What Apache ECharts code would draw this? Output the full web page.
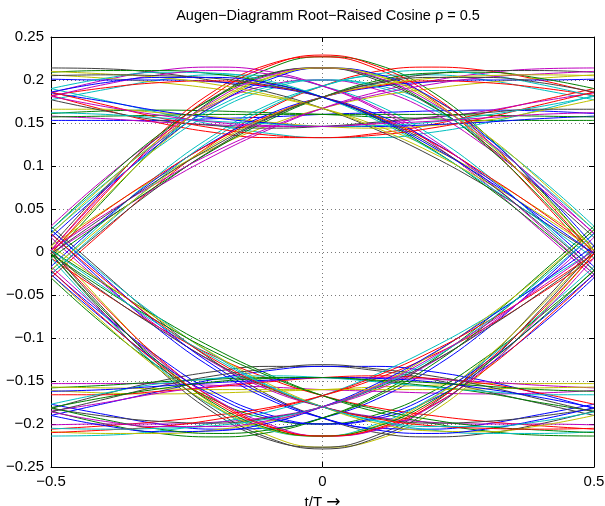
<!DOCTYPE html>
<html>
<head>
<meta charset="utf-8">
<script src="https://cdn.jsdelivr.net/npm/echarts@6/dist/echarts.min.js"></script>
<style>
html,body{margin:0;padding:0;background:#fff;}
#chart{width:605px;height:506px;}
</style>
</head>
<body>
<div id="chart"></div>
<script>
// sample instants t/T
const tVals = [-0.5,-0.4,-0.3,-0.2,-0.1,0,0.1,0.2,0.3,0.4,0.5];

// upper eye: traces staying high
const highFlat = [
  [0.153,0.153,0.153,0.155,0.157,0.160,0.162,0.164,0.165,0.164,0.161],
  [0.161,0.164,0.165,0.164,0.162,0.160,0.157,0.155,0.153,0.153,0.153],
  [0.182,0.165,0.150,0.139,0.133,0.133,0.138,0.148,0.162,0.176,0.190],
  [0.190,0.176,0.162,0.148,0.138,0.133,0.133,0.139,0.150,0.165,0.182],
  [0.158,0.155,0.151,0.148,0.146,0.146,0.150,0.156,0.164,0.175,0.185],
  [0.166,0.166,0.162,0.157,0.151,0.146,0.144,0.147,0.153,0.164,0.177],
  [0.177,0.164,0.153,0.147,0.144,0.146,0.151,0.157,0.162,0.166,0.166],
  [0.185,0.175,0.164,0.156,0.150,0.146,0.146,0.148,0.151,0.155,0.158],
  [0.157,0.158,0.159,0.160,0.160,0.160,0.160,0.160,0.159,0.158,0.157],
  [0.186,0.171,0.156,0.144,0.136,0.133,0.136,0.144,0.156,0.171,0.186],
  [0.162,0.160,0.156,0.152,0.149,0.146,0.147,0.151,0.159,0.169,0.181],
  [0.181,0.169,0.159,0.151,0.147,0.146,0.149,0.152,0.156,0.160,0.162]
];
// upper eye: arcs from crossing to crossing
const highArc = [
  [-0.007,0.062,0.126,0.178,0.213,0.227,0.218,0.187,0.137,0.073,0.002],
  [0.002,0.073,0.137,0.187,0.218,0.227,0.213,0.178,0.126,0.062,-0.007],
  [0.022,0.075,0.123,0.163,0.189,0.200,0.194,0.172,0.134,0.086,0.030],
  [0.030,0.086,0.134,0.172,0.194,0.200,0.189,0.163,0.123,0.075,0.022],
  [-0.002,0.064,0.124,0.171,0.202,0.214,0.206,0.179,0.137,0.084,0.026],
  [0.007,0.075,0.135,0.180,0.207,0.214,0.200,0.170,0.126,0.073,0.017],
  [0.017,0.073,0.126,0.170,0.200,0.214,0.207,0.180,0.135,0.075,0.007],
  [0.026,0.084,0.137,0.179,0.206,0.214,0.202,0.171,0.124,0.064,-0.002],
  [-0.002,0.068,0.132,0.183,0.216,0.229,0.216,0.183,0.132,0.068,-0.002],
  [0.026,0.080,0.129,0.167,0.192,0.200,0.192,0.167,0.129,0.080,0.026],
  [0.002,0.070,0.129,0.176,0.205,0.214,0.203,0.174,0.131,0.079,0.021],
  [0.021,0.079,0.131,0.174,0.203,0.214,0.205,0.176,0.129,0.070,0.002]
];
// upper eye: rising from crossing, staying high
const highRise = [
  [-0.030,0.026,0.080,0.127,0.166,0.193,0.210,0.215,0.211,0.200,0.185],
  [-0.022,0.037,0.091,0.136,0.171,0.193,0.205,0.206,0.200,0.189,0.177],
  [-0.002,0.038,0.077,0.112,0.142,0.167,0.186,0.199,0.208,0.213,0.214],
  [0.007,0.049,0.088,0.121,0.147,0.167,0.181,0.190,0.197,0.202,0.206],
  [-0.026,0.028,0.077,0.120,0.155,0.180,0.197,0.207,0.211,0.211,0.209],
  [-0.017,0.039,0.088,0.129,0.160,0.180,0.192,0.198,0.200,0.200,0.201],
  [-0.007,0.037,0.079,0.119,0.153,0.180,0.199,0.208,0.209,0.202,0.190],
  [0.002,0.048,0.090,0.128,0.158,0.180,0.193,0.199,0.197,0.191,0.182],
  [-0.026,0.031,0.085,0.132,0.168,0.193,0.207,0.211,0.206,0.195,0.181],
  [0.002,0.044,0.082,0.116,0.144,0.167,0.183,0.195,0.203,0.207,0.210],
  [-0.021,0.033,0.083,0.125,0.157,0.180,0.194,0.202,0.205,0.206,0.205],
  [-0.002,0.042,0.085,0.123,0.156,0.180,0.196,0.203,0.203,0.197,0.186]
];
// upper eye: high, falling to crossing
const highFall = [
  [0.177,0.189,0.200,0.206,0.205,0.193,0.171,0.136,0.091,0.037,-0.022],
  [0.185,0.200,0.211,0.215,0.210,0.193,0.166,0.127,0.080,0.026,-0.030],
  [0.206,0.202,0.197,0.190,0.181,0.167,0.147,0.121,0.088,0.049,0.007],
  [0.214,0.213,0.208,0.199,0.186,0.167,0.142,0.112,0.077,0.038,-0.002],
  [0.201,0.200,0.200,0.198,0.192,0.180,0.160,0.129,0.088,0.039,-0.017],
  [0.209,0.211,0.211,0.207,0.197,0.180,0.155,0.120,0.077,0.028,-0.026],
  [0.182,0.191,0.197,0.199,0.193,0.180,0.158,0.128,0.090,0.048,0.002],
  [0.190,0.202,0.209,0.208,0.199,0.180,0.153,0.119,0.079,0.037,-0.007],
  [0.181,0.195,0.206,0.211,0.207,0.193,0.168,0.132,0.085,0.031,-0.026],
  [0.210,0.207,0.203,0.195,0.183,0.167,0.144,0.116,0.082,0.044,0.002],
  [0.205,0.206,0.205,0.202,0.194,0.180,0.157,0.125,0.083,0.033,-0.021],
  [0.186,0.197,0.203,0.203,0.196,0.180,0.156,0.123,0.085,0.042,-0.002]
];
// lower eye: traces staying low
const lowFlat = [
  [-0.153,-0.153,-0.153,-0.155,-0.157,-0.160,-0.162,-0.164,-0.165,-0.164,-0.161],
  [-0.161,-0.164,-0.165,-0.164,-0.162,-0.160,-0.157,-0.155,-0.153,-0.153,-0.153],
  [-0.182,-0.165,-0.150,-0.139,-0.133,-0.133,-0.138,-0.148,-0.162,-0.176,-0.190],
  [-0.190,-0.176,-0.162,-0.148,-0.138,-0.133,-0.133,-0.139,-0.150,-0.165,-0.182],
  [-0.158,-0.155,-0.151,-0.148,-0.146,-0.146,-0.150,-0.156,-0.164,-0.175,-0.185],
  [-0.166,-0.166,-0.162,-0.157,-0.151,-0.146,-0.144,-0.147,-0.153,-0.164,-0.177],
  [-0.177,-0.164,-0.153,-0.147,-0.144,-0.146,-0.151,-0.157,-0.162,-0.166,-0.166],
  [-0.185,-0.175,-0.164,-0.156,-0.150,-0.146,-0.146,-0.148,-0.151,-0.155,-0.158],
  [-0.157,-0.158,-0.159,-0.160,-0.160,-0.160,-0.160,-0.160,-0.159,-0.158,-0.157],
  [-0.186,-0.171,-0.156,-0.144,-0.136,-0.131,-0.136,-0.144,-0.156,-0.171,-0.186],
  [-0.162,-0.160,-0.156,-0.152,-0.149,-0.146,-0.147,-0.151,-0.159,-0.169,-0.181],
  [-0.181,-0.169,-0.159,-0.151,-0.147,-0.146,-0.149,-0.152,-0.156,-0.160,-0.162]
];
// lower eye: arcs from crossing to crossing
const lowArc = [
  [0.007,-0.062,-0.126,-0.178,-0.213,-0.227,-0.218,-0.187,-0.137,-0.073,-0.002],
  [-0.002,-0.073,-0.137,-0.187,-0.218,-0.227,-0.213,-0.178,-0.126,-0.062,0.007],
  [-0.022,-0.075,-0.123,-0.163,-0.189,-0.200,-0.194,-0.172,-0.134,-0.086,-0.030],
  [-0.030,-0.086,-0.134,-0.172,-0.194,-0.200,-0.189,-0.163,-0.123,-0.075,-0.022],
  [0.002,-0.064,-0.124,-0.171,-0.202,-0.214,-0.206,-0.179,-0.137,-0.084,-0.026],
  [-0.007,-0.075,-0.135,-0.180,-0.207,-0.214,-0.200,-0.170,-0.126,-0.073,-0.017],
  [-0.017,-0.073,-0.126,-0.170,-0.200,-0.214,-0.207,-0.180,-0.135,-0.075,-0.007],
  [-0.026,-0.084,-0.137,-0.179,-0.206,-0.214,-0.202,-0.171,-0.124,-0.064,0.002],
  [0.002,-0.068,-0.132,-0.183,-0.216,-0.229,-0.216,-0.183,-0.132,-0.068,0.002],
  [-0.026,-0.080,-0.129,-0.167,-0.192,-0.200,-0.192,-0.167,-0.129,-0.080,-0.026],
  [-0.002,-0.070,-0.129,-0.176,-0.205,-0.214,-0.203,-0.174,-0.131,-0.079,-0.021],
  [-0.021,-0.079,-0.131,-0.174,-0.203,-0.214,-0.205,-0.176,-0.129,-0.070,-0.002]
];
// lower eye: falling from crossing, staying low
const lowFall = [
  [0.030,-0.026,-0.080,-0.127,-0.166,-0.193,-0.210,-0.215,-0.211,-0.200,-0.185],
  [0.022,-0.037,-0.091,-0.136,-0.171,-0.193,-0.205,-0.206,-0.200,-0.189,-0.177],
  [0.002,-0.038,-0.077,-0.112,-0.142,-0.167,-0.186,-0.199,-0.208,-0.213,-0.214],
  [-0.007,-0.049,-0.088,-0.121,-0.147,-0.167,-0.181,-0.190,-0.197,-0.202,-0.206],
  [0.026,-0.028,-0.077,-0.120,-0.155,-0.180,-0.197,-0.207,-0.211,-0.211,-0.209],
  [0.017,-0.039,-0.088,-0.129,-0.160,-0.180,-0.192,-0.198,-0.200,-0.200,-0.201],
  [0.007,-0.037,-0.079,-0.119,-0.153,-0.180,-0.199,-0.208,-0.209,-0.202,-0.190],
  [-0.002,-0.048,-0.090,-0.128,-0.158,-0.180,-0.193,-0.199,-0.197,-0.191,-0.182],
  [0.026,-0.031,-0.085,-0.132,-0.168,-0.193,-0.207,-0.211,-0.206,-0.195,-0.181],
  [-0.002,-0.044,-0.082,-0.116,-0.144,-0.167,-0.183,-0.195,-0.203,-0.207,-0.210],
  [0.021,-0.033,-0.083,-0.125,-0.157,-0.180,-0.194,-0.202,-0.205,-0.206,-0.205],
  [0.002,-0.042,-0.085,-0.123,-0.156,-0.180,-0.196,-0.203,-0.203,-0.197,-0.186]
];
// lower eye: low, rising to crossing
const lowRise = [
  [-0.177,-0.189,-0.200,-0.206,-0.205,-0.193,-0.171,-0.136,-0.091,-0.037,0.022],
  [-0.185,-0.200,-0.211,-0.215,-0.210,-0.193,-0.166,-0.127,-0.080,-0.026,0.030],
  [-0.206,-0.202,-0.197,-0.190,-0.181,-0.167,-0.147,-0.121,-0.088,-0.049,-0.007],
  [-0.214,-0.213,-0.208,-0.199,-0.186,-0.167,-0.142,-0.112,-0.077,-0.038,0.002],
  [-0.201,-0.200,-0.200,-0.198,-0.192,-0.180,-0.160,-0.129,-0.088,-0.039,0.017],
  [-0.209,-0.211,-0.211,-0.207,-0.197,-0.180,-0.155,-0.120,-0.077,-0.028,0.026],
  [-0.182,-0.191,-0.197,-0.199,-0.193,-0.180,-0.158,-0.128,-0.090,-0.048,-0.002],
  [-0.190,-0.202,-0.209,-0.208,-0.199,-0.180,-0.153,-0.119,-0.079,-0.037,0.007],
  [-0.181,-0.195,-0.206,-0.211,-0.207,-0.193,-0.168,-0.132,-0.085,-0.031,0.026],
  [-0.210,-0.207,-0.203,-0.195,-0.183,-0.167,-0.144,-0.116,-0.082,-0.044,-0.002],
  [-0.205,-0.206,-0.205,-0.202,-0.194,-0.180,-0.157,-0.125,-0.083,-0.033,0.021],
  [-0.186,-0.197,-0.203,-0.203,-0.196,-0.180,-0.156,-0.123,-0.085,-0.042,0.002]
];

const titleText = 'Augen\u2212Diagramm Root\u2212Raised Cosine \u03c1 = 0.5';
const xNameText = 't/T';
const xNameArrow = '\u2192';

const lineColors = ['#0000ff','#008000','#ff0000','#00bfbf','#bf00bf','#bfbf00','#404040'];
const FONT = '"Liberation Sans", Arial, Helvetica, sans-serif';

const families = [highFlat, highArc, highRise, highFall, lowFlat, lowArc, lowFall, lowRise];
const series = [];
let c = 0;
for (let i = 0; i < 12; i++) {
  for (let f = 0; f < families.length; f++) {
    const tr = families[f][i];
    series.push({
      type: 'line',
      xAxisIndex: 0, yAxisIndex: 0,
      data: tVals.map((t, k) => [t, tr[k]]),
      showSymbol: false,
      smooth: 0.45,
      silent: true,
      animation: false,
      lineStyle: { width: 1, color: lineColors[c % lineColors.length] },
      z: 2
    });
    c++;
  }
}

const fmtNum = v => {
  const r = Math.round(v * 100) / 100;
  return String(r).replace('-', '\u2212');
};

const gridLine = { show: true, lineStyle: { color: '#7a7a7a', width: 1, type: [1, 3] } };
const axLine = { show: true, onZero: false, lineStyle: { color: '#000', width: 1 } };
const tick = { show: true, inside: true, length: 5, lineStyle: { color: '#000', width: 1 } };
const lbl = { color: '#000', fontSize: 15, fontFamily: FONT };

const chart = echarts.init(document.getElementById('chart'), null, { renderer: 'canvas' });
chart.setOption({
  backgroundColor: '#fff',
  animation: false,
  title: {
    text: titleText,
    left: 323,
    top: 3,
    textAlign: 'center',
    textStyle: { color: '#000', fontSize: 14.5, fontWeight: 'normal', fontFamily: FONT }
  },
  grid: { left: 51, right: 11, top: 37, bottom: 39, containLabel: false, outerBoundsMode: 'none' },
  xAxis: [
    {
      type: 'value', min: -0.5, max: 0.5, interval: 0.5, position: 'bottom',
      axisLine: axLine, axisTick: tick, splitLine: gridLine,
      axisLabel: Object.assign({ margin: 7, formatter: fmtNum }, lbl),
      name: '{t|' + xNameText + ' }{a|' + xNameArrow + '}', nameLocation: 'middle', nameGap: 18,
      nameTextStyle: {
        color: '#000', fontSize: 15, fontFamily: FONT, verticalAlign: 'top',
        rich: {
          t: { color: '#000', fontSize: 15, fontFamily: FONT },
          a: { color: '#000', fontSize: 17, fontFamily: '"DejaVu Sans", sans-serif' }
        }
      }
    },
    {
      type: 'value', min: -0.5, max: 0.5, interval: 0.5, position: 'top',
      axisLine: axLine, axisTick: tick, splitLine: { show: false },
      axisLabel: { show: false }
    }
  ],
  yAxis: [
    {
      type: 'value', min: -0.25, max: 0.25, interval: 0.05, position: 'left',
      axisLine: axLine, axisTick: tick, splitLine: gridLine,
      axisLabel: Object.assign({ margin: 7, formatter: fmtNum }, lbl)
    },
    {
      type: 'value', min: -0.25, max: 0.25, interval: 0.05, position: 'right',
      axisLine: axLine, axisTick: tick, splitLine: { show: false },
      axisLabel: { show: false }
    }
  ],
  series: series
});
</script>
</body>
</html>
